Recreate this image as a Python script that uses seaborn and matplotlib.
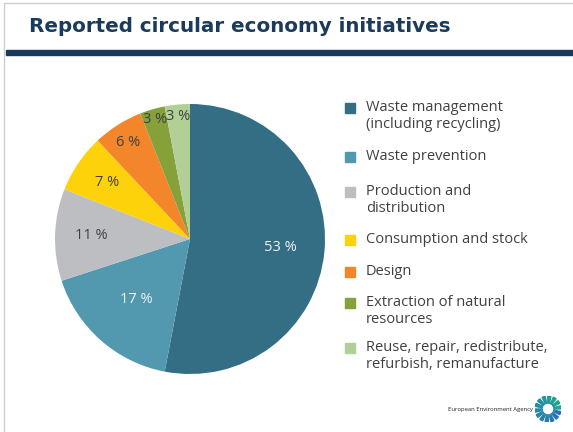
import matplotlib
matplotlib.use("Agg")
import matplotlib.pyplot as plt
import seaborn as sns
import numpy as np
from matplotlib.patches import Rectangle, Wedge, Circle
from matplotlib.lines import Line2D

sns.set_theme(style="white")
plt.rcParams['font.family'] = ['Open Sans', 'DejaVu Sans']

categories = ["Waste management\n(including recycling)", "Waste prevention",
              "Production and\ndistribution", "Consumption and stock", "Design",
              "Extraction of natural\nresources",
              "Reuse, repair, redistribute,\nrefurbish, remanufacture"]
values = [53, 17, 11, 7, 6, 3, 3]
pct_labels = ["53 %", "17 %", "11 %", "7 %", "6 %", "3 %", "3 %"]

colors = sns.color_palette(["#336E84", "#5299B0", "#BDBEC2", "#FDD20A",
                            "#F3862A", "#86A03A", "#B3CF98"])
label_colors = ["#EEF2F4", "#EEF2F4", "#404040", "#404040", "#404040", "#404040", "#404040"]
label_dist = [0.67, 0.60, 0.73, 0.74, 0.85, 0.92, 0.91]

W, H = 573, 432
fig = plt.figure(figsize=(W / 100, H / 100), dpi=100)
fig.patch.set_facecolor("white")

# frame lines
fig.add_artist(Line2D([4 / W, 4 / W], [0, 1 - 3 / H], color="#CFCFCF", lw=1))
fig.add_artist(Line2D([4 / W, 1], [1 - 3 / H, 1 - 3 / H], color="#CFCFCF", lw=1))
# title
fig.text(29 / W, 1 - 26 / H, "Reported circular economy initiatives",
         fontsize=14.3, fontweight="bold", color="#1A3A5E", va="center", ha="left",
         family=["DejaVu Sans"])
fig.add_artist(Rectangle((6 / W, 1 - 55 / H), 1, 5 / H, color="#173A5E",
                         transform=fig.transFigure))

# pie
cx, cy, r = 190, H - 239, 135
ax = fig.add_axes([(cx - r) / W, (cy - r) / H, 2 * r / W, 2 * r / H])
wedges, _ = ax.pie(values, colors=colors, startangle=90, counterclock=False,
                   radius=1, wedgeprops=dict(linewidth=0))
for w, lab, col, d in zip(wedges, pct_labels, label_colors, label_dist):
    ang = np.deg2rad((w.theta1 + w.theta2) / 2)
    ax.text(d * np.cos(ang), d * np.sin(ang), lab, ha="center", va="center",
            fontsize=10.5, color=col)
ax.set_xlim(-1, 1)
ax.set_ylim(-1, 1)
ax.set_aspect("equal")
ax.axis("off")

# legend (manual)
rows = [108, 157, 192, 240, 272, 303, 348]
for cat, col, y in zip(categories, colors, rows):
    fig.add_artist(Rectangle((345 / W, 1 - (y + 5) / H), 10 / W, 10 / H,
                             color=col, transform=fig.transFigure))
    fig.text(366 / W, 1 - (y - 8) / H, cat, fontsize=10.5, color="#404040",
             va="top", ha="left", linespacing=1.2)

# logo
fig.text(533 / W, 1 - 409 / H, "European Environment Agency", fontsize=4.2,
         color="#222222", ha="right", va="center")
lax = fig.add_axes([535 / W, 1 - 422 / H, 26 / W, 26 / H])
n = 14
for i in range(n):
    a0 = 360 / n * i
    c = sns.blend_palette(["#1FA88A", "#2A6FB8"], n)[i]
    lax.add_patch(Wedge((0, 0), 1.0, a0, a0 + 360 / n * 0.55, width=0.55, color=c))
lax.add_patch(Circle((0, 0), 0.5, facecolor="none", edgecolor="#2A8FB0", lw=1.2))
lax.set_xlim(-1, 1)
lax.set_ylim(-1, 1)
lax.set_aspect("equal")
lax.axis("off")

fig.savefig("out.png", dpi=100, facecolor="white")
